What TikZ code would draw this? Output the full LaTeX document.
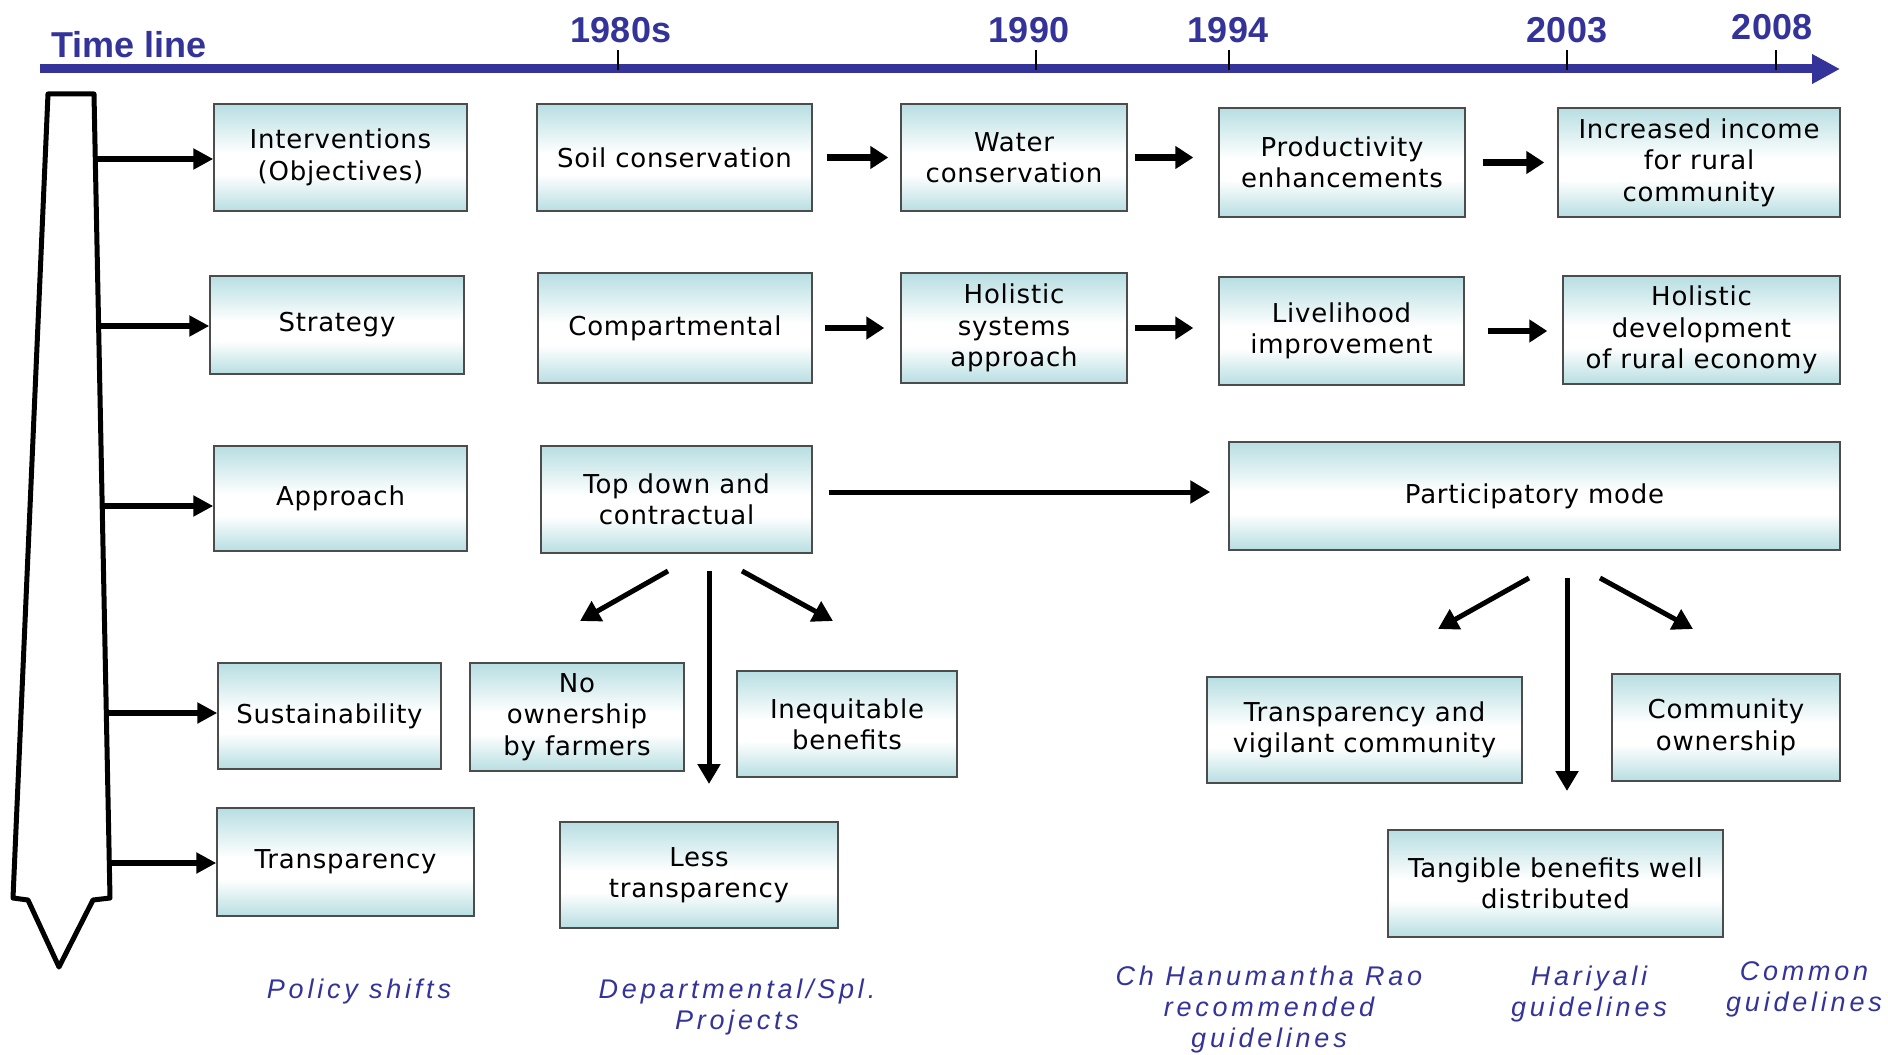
\documentclass[tikz,border=0pt]{standalone}
\usepackage{fontspec}
\setmainfont{DejaVu Sans}[LetterSpace=3]
\newfontfamily\notefont{Liberation Sans}[LetterSpace=14]
\newfontfamily\yearfont{Liberation Sans}
\usetikzlibrary{arrows.meta,positioning,calc}
\definecolor{tlblue}{RGB}{51,51,153}
\definecolor{boxteal}{RGB}{183,222,226}
\pgfdeclareverticalshading{boxshade}{100bp}{color(0bp)=(boxteal); color(25bp)=(boxteal); color(42bp)=(white); color(52bp)=(white); color(75bp)=(boxteal); color(100bp)=(boxteal)}

\begin{document}
\begin{tikzpicture}[x=0.5pt, y=-0.5pt]
% Define block styles
\tikzstyle{block} = [rectangle, draw=black!70, line width=0.7pt, shading=boxshade,
    align=center, inner sep=2pt, font=\fontsize{13}{15.7}\selectfont]
\tikzstyle{line} = [draw, line width=2.5pt, -{Triangle[length=10pt, width=11pt]}]
\tikzstyle{flow} = [draw, line width=3.2pt, -{Triangle[length=9pt, width=11pt]}]
\tikzstyle{feed} = [draw, line width=2.8pt, -{Triangle[length=10pt, width=10pt]}]
\tikzstyle{note} = [text=tlblue, align=center, font=\notefont\itshape\fontsize{13.5}{15.5}\selectfont]
\tikzstyle{year} = [text=tlblue, inner sep=0pt, font=\yearfont\bfseries\fontsize{18}{21}\selectfont]
\tikzstyle{tick} = [draw, line width=0.6pt]

    \useasboundingbox (0,0) rectangle (1888,1054);

    % Time line
    \node [year, anchor=base west] (tl) at (51,58) {Time line};
    \coordinate (tlstart) at (40,69);
    \coordinate (tlend) at (1840,69);
    \path [draw, tlblue, line width=4.5pt, -{Triangle[length=14pt, width=14pt]}] (tlstart) -- (tlend);
    \node [year, anchor=base] (y80) at (621,42.5) {1980s};
    \node [year, anchor=base] (y90) at (1029,42.5) {1990};
    \node [year, anchor=base] (y94) at (1228,42.5) {1994};
    \node [year, anchor=base] (y03) at (1567,42.5) {2003};
    \node [year, anchor=base] (y08) at (1772,39.5) {2008};
    \path [tick] (618,50) -- (618,70);
    \path [tick] (1036,50) -- (1036,70);
    \path [tick] (1229,50) -- (1229,70);
    \path [tick] (1567,50) -- (1567,70);
    \path [tick] (1776,50) -- (1776,70);

    % Policy shaft
    \draw [line width=2.5pt, line join=round, fill=white] (48,94) -- (94,94) -- (110,898)
        -- (93,900) -- (59,967) -- (28,900) -- (13,898) -- cycle;
    \coordinate (s1) at (95,159);
    \coordinate (s2) at (99,326);
    \coordinate (s3) at (102,506);
    \coordinate (s4) at (106,713);
    \coordinate (s5) at (109,863);

    % Place nodes
    \node [block, minimum width=126.5pt, minimum height=53.5pt] (inter) at (340.5,157.5) {Interventions\\(Objectives)};
    \node [block, minimum width=137.5pt, minimum height=53.5pt] (soil) at (674.5,157.5) {Soil conservation};
    \node [block, minimum width=113pt, minimum height=53.5pt] (water) at (1014,157.5) {Water\\conservation};
    \node [block, minimum width=123pt, minimum height=54.5pt] (prod) at (1342,162.5) {Productivity\\enhancements};
    \node [block, minimum width=141pt, minimum height=54.5pt] (income) at (1699,162.5) {Increased income\\for rural\\community};

    \node [block, minimum width=127pt, minimum height=49pt] (strat) at (337,325) {Strategy};
    \node [block, minimum width=137pt, minimum height=55pt] (comp) at (675,328) {Compartmental};
    \node [block, minimum width=113pt, minimum height=55pt] (holsys) at (1014,328) {Holistic\\systems\\approach};
    \node [block, minimum width=122.5pt, minimum height=54pt] (live) at (1341.5,331) {Livelihood\\improvement};
    \node [block, minimum width=138.5pt, minimum height=54pt] (holdev) at (1701.5,330) {Holistic\\development\\of rural economy};

    \node [block, minimum width=126.5pt, minimum height=52.5pt] (appr) at (340.5,498.5) {Approach};
    \node [block, minimum width=135.5pt, minimum height=53.5pt] (topdown) at (676.5,499.5) {Top down and\\contractual};
    \node [block, minimum width=305.5pt, minimum height=54pt] (partic) at (1534.5,496) {Participatory mode};

    \node [block, minimum width=111.5pt, minimum height=53pt] (sust) at (329.5,716) {Sustainability};
    \node [block, minimum width=107pt, minimum height=54pt] (noown) at (577,717) {No\\ownership\\by farmers};
    \node [block, minimum width=110pt, minimum height=53pt] (ineq) at (847,724) {Inequitable\\benefits};
    \node [block, minimum width=157.5pt, minimum height=53pt] (tvc) at (1364.5,730) {Transparency and\\vigilant community};
    \node [block, minimum width=114pt, minimum height=53.5pt] (commown) at (1726,727.5) {Community\\ownership};

    \node [block, minimum width=128.5pt, minimum height=54pt] (transp) at (345.5,862) {Transparency};
    \node [block, minimum width=139pt, minimum height=53pt] (less) at (699,875) {Less\\transparency};
    \node [block, minimum width=167.5pt, minimum height=53.5pt] (tang) at (1555.5,883.5) {Tangible benefits well\\distributed};

    \node [note] (policy) at (359,992) {Policy shifts};
    \node [note] (dept) at (737,1007) {Departmental/Spl.\\Projects};
    \node [note] (rao) at (1269,1010) {Ch Hanumantha Rao\\recommended\\guidelines};
    \node [note] (hari) at (1589,994.5) {Hariyali\\guidelines};
    \node [note] (common) at (1804,989.5) {Common\\guidelines};

    % Split points
    \coordinate (td1) at (668,571);  \coordinate (td1e) at (580,621);
    \coordinate (td2) at (709,571);  \coordinate (td2e) at (709,784);
    \coordinate (td3) at (742,571);  \coordinate (td3e) at (833,621);
    \coordinate (pm1) at (1529,578); \coordinate (pm1e) at (1438,629);
    \coordinate (pm2) at (1567,578); \coordinate (pm2e) at (1567,791);
    \coordinate (pm3) at (1600,578); \coordinate (pm3e) at (1693,629);

    % Draw edges
    \path [feed] (s1) -- (s1 -| inter.west);
    \path [feed] (s2) -- (s2 -| strat.west);
    \path [feed] (s3) -- (s3 -| appr.west);
    \path [feed] (s4) -- (s4 -| sust.west);
    \path [feed] (s5) -- (s5 -| transp.west);
    \path [flow, shorten <=7pt, shorten >=6pt] (soil.east) -- (soil.east -| water.west);
    \path [flow, shorten <=3.5pt, shorten >=12.5pt] (water.east) -- (water.east -| prod.west);
    \path [flow, shorten <=8.5pt, shorten >=6.5pt] (prod.east) -- (prod.east -| income.west);
    \path [flow, shorten <=6pt, shorten >=8pt] (comp.east) -- (comp.east -| holsys.west);
    \path [flow, shorten <=3.5pt, shorten >=12.5pt] (holsys.east) -- (holsys.east -| live.west);
    \path [flow, shorten <=11.5pt, shorten >=7.5pt] (live.east) -- (live.east -| holdev.west);
    \path [line, shorten <=8pt, shorten >=9pt] ([yshift=3.75pt]topdown.east) -- ([yshift=3.75pt]topdown.east -| partic.west);
    \path [line] (td1) -- (td1e);
    \path [line] (td2) -- (td2e);
    \path [line] (td3) -- (td3e);
    \path [line] (pm1) -- (pm1e);
    \path [line] (pm2) -- (pm2e);
    \path [line] (pm3) -- (pm3e);
\end{tikzpicture}
\end{document}
